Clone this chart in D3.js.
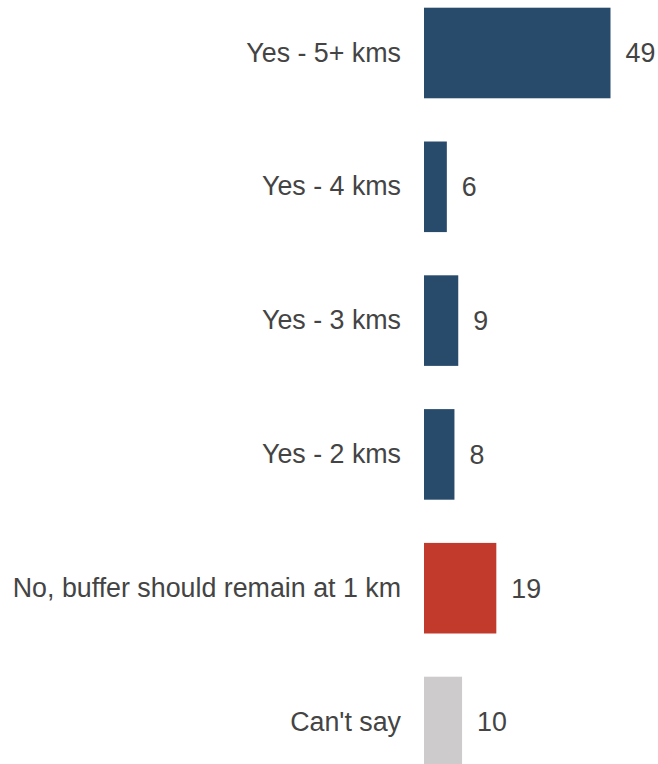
<!DOCTYPE html>
<html>
<head>
<meta charset="utf-8">
<script src="https://cdn.jsdelivr.net/npm/d3@7"></script>
<style>
  html, body { margin: 0; padding: 0; background: #ffffff; overflow: hidden; }
  svg { display: block; }
</style>
</head>
<body>
<svg id="chart" width="658" height="764"></svg>
<script>
const categories = ["Yes - 5+ kms", "Yes - 4 kms", "Yes - 3 kms", "Yes - 2 kms", "No, buffer should remain at 1 km", "Can't say"];
const values = [49, 6, 9, 8, 19, 10];
const barColors = ["#284b6c", "#284b6c", "#284b6c", "#284b6c", "#c13a2c", "#cdcbcc"];

const data = categories.map((c, i) => ({ cat: c, value: values[i], color: barColors[i] }));

const svg = d3.select("#chart");

const x = d3.scaleLinear().domain([0, 49]).range([424, 610.5]);
const y = d3.scaleBand()
  .domain(categories)
  .range([7.7, 767.3])
  .paddingInner(0.323)
  .paddingOuter(0);

svg.selectAll("rect.bar")
  .data(data)
  .join("rect")
  .attr("class", "bar")
  .attr("x", x(0))
  .attr("y", d => y(d.cat))
  .attr("width", d => x(d.value) - x(0))
  .attr("height", y.bandwidth())
  .attr("fill", d => d.color);

const yAxis = d3.axisLeft(y).tickSize(0).tickPadding(23);
const gy = svg.append("g")
  .attr("transform", `translate(${x(0)},0)`)
  .call(yAxis);
gy.select(".domain").remove();
gy.selectAll("text")
  .attr("fill", "#444444")
  .style("font-family", "'Liberation Sans', Arial, sans-serif")
  .style("font-size", "26.8px");

svg.selectAll("text.val")
  .data(data)
  .join("text")
  .attr("class", "val")
  .attr("x", d => x(d.value) + 15)
  .attr("y", d => y(d.cat) + y.bandwidth() / 2)
  .attr("dy", "0.35em")
  .attr("fill", "#444444")
  .style("font-family", "'Liberation Sans', Arial, sans-serif")
  .style("font-size", "26.8px")
  .text(d => d.value);
</script>
</body>
</html>
